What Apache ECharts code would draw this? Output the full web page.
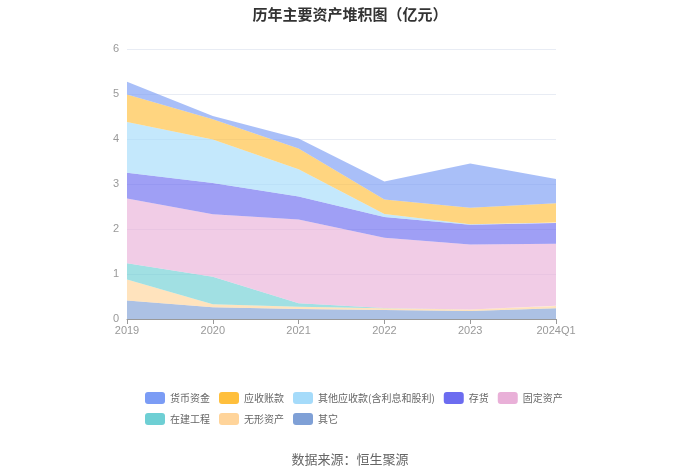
<!DOCTYPE html>
<html><head><meta charset="utf-8">
<script src="https://cdn.jsdelivr.net/npm/echarts@6/dist/echarts.min.js"></script>
<style>html,body{margin:0;padding:0;background:#fff}#c{width:700px;height:473px}</style>
</head><body><div id="c"></div>
<script>
const categories = ['2019','2020','2021','2022','2023','2024Q1'];
const cash = [0.28, 0.07, 0.22, 0.40, 0.98, 0.54];          // 货币资金
const receivables = [0.61, 0.45, 0.46, 0.32, 0.37, 0.43];   // 应收账款
const otherRecv = [1.13, 0.97, 0.61, 0.07, 0.01, 0.01];     // 其他应收款(含利息和股利)
const inventory = [0.57, 0.69, 0.51, 0.46, 0.44, 0.46];     // 存货
const fixedAssets = [1.44, 1.39, 1.86, 1.56, 1.44, 1.38];   // 固定资产
const construction = [0.36, 0.61, 0.08, 0.005, 0.003, 0.003]; // 在建工程
const intangible = [0.47, 0.07, 0.05, 0.04, 0.03, 0.05];    // 无形资产
const others = [0.41, 0.26, 0.22, 0.20, 0.18, 0.24];        // 其它
const yTicks = [0, 1, 2, 3, 4, 5, 6];

const seriesDefs = [
  ['货币资金', cash, '#7B9CF5'],
  ['应收账款', receivables, '#FFBF3C'],
  ['其他应收款(含利息和股利)', otherRecv, '#A5DBFA'],
  ['存货', inventory, '#6C6CF0'],
  ['固定资产', fixedAssets, '#E9B0D8'],
  ['在建工程', construction, '#6ECFD4'],
  ['无形资产', intangible, '#FFD49A'],
  ['其它', others, '#7FA0D6']
];
const series = seriesDefs.slice().reverse().map(([name, data, color]) => ({
  name, type: 'line', stack: 'total', data, symbol: 'none', smooth: false,
  color, lineStyle: {width: 0}, areaStyle: {color, opacity: 0.65},
  emphasis: {disabled: true}
}));

const chart = echarts.init(document.getElementById('c'), null, {renderer: 'canvas'});
chart.setOption({
  animation: false,
  title: [{
    text: '历年主要资产堆积图（亿元）', left: 'center', top: 2,
    textStyle: {fontSize: 15, fontWeight: 'bold', color: '#333', fontFamily: 'Noto Sans CJK SC'}
  }, {
    text: '数据来源：恒生聚源', left: 'center', top: 448,
    textStyle: {fontSize: 13, fontWeight: 'normal', color: '#666', fontFamily: 'Noto Sans CJK SC'}
  }],
  legend: {
    data: seriesDefs.map(d => d[0]), left: 145, top: 392, width: 420, padding: 0,
    itemWidth: 20, itemHeight: 12, itemGap: 9, icon: 'roundRect',
    textStyle: {fontSize: 10, color: '#666', fontFamily: 'Noto Sans CJK SC'}
  },
  grid: {left: 127, right: 144, top: 49, bottom: 154},
  xAxis: {
    type: 'category', data: categories, boundaryGap: false,
    axisLine: {lineStyle: {color: '#999'}},
    axisTick: {lineStyle: {color: '#999'}},
    axisLabel: {color: '#999', fontSize: 11, margin: 6}
  },
  yAxis: {
    type: 'value', min: yTicks[0], max: yTicks[yTicks.length - 1], interval: 1,
    axisLine: {show: false}, axisTick: {show: false},
    axisLabel: {color: '#999', fontSize: 11, margin: 8},
    splitLine: {lineStyle: {color: '#E8ECF4'}}
  },
  series
});
</script></body></html>
